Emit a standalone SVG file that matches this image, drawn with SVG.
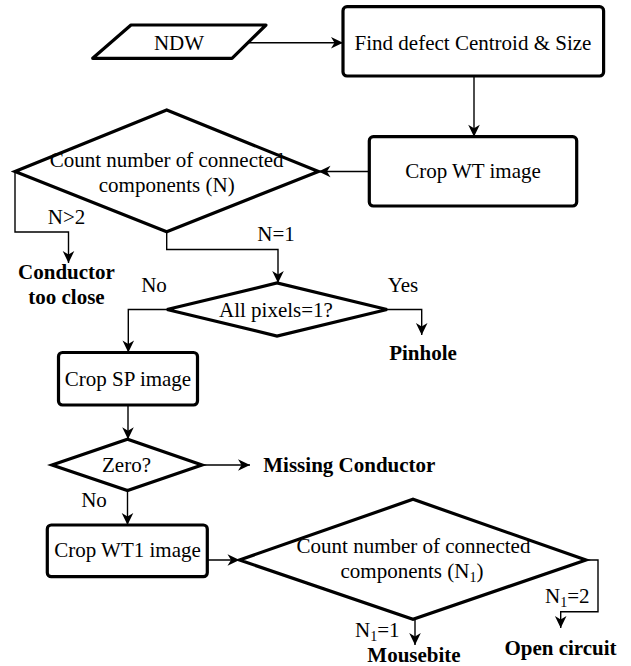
<svg xmlns="http://www.w3.org/2000/svg" width="631" height="666" viewBox="0 0 631 666">
<style>
.shape{fill:#fff;stroke:#000;stroke-width:3.2}
.conn{fill:none;stroke:#000;stroke-width:1.4}
.m{text-anchor:middle}
.b{font-weight:bold}
.sub{font-size:14px}
</style>
<defs>
<marker id="arr" viewBox="-13 -7 14 14" refX="0" refY="0" markerWidth="14" markerHeight="14" orient="auto" markerUnits="userSpaceOnUse">
<path d="M0,0 L-12,-5.8 L-8.5,0 L-12,5.8 Z" fill="#000"/>
</marker>
</defs>
<rect width="631" height="666" fill="#fff"/>
<g id="connectors">
<path class="conn" d="M249,42.7 H343" marker-end="url(#arr)"/>
<path class="conn" d="M474,76 V136.7" marker-end="url(#arr)"/>
<path class="conn" d="M369.3,171.5 H318.5" marker-end="url(#arr)"/>
<path class="conn" d="M15,171.5 V232 H68.5 V263" marker-end="url(#arr)"/>
<path class="conn" d="M166.7,231.7 V249.5 H278 V283" marker-end="url(#arr)"/>
<path class="conn" d="M167,309.5 H128.3 V352.5" marker-end="url(#arr)"/>
<path class="conn" d="M387,309.5 H421.7 V335" marker-end="url(#arr)"/>
<path class="conn" d="M128,405 V439.3" marker-end="url(#arr)"/>
<path class="conn" d="M202,465 H250" marker-end="url(#arr)"/>
<path class="conn" d="M127.5,490.5 V525" marker-end="url(#arr)"/>
<path class="conn" d="M207.3,560 H239.5" marker-end="url(#arr)"/>
<path class="conn" d="M415,619.3 V645" marker-end="url(#arr)"/>
<path class="conn" d="M586,560 H598 V611.7 H560.7 V628" marker-end="url(#arr)"/>
</g>
<g font-family="Liberation Serif, Times New Roman, serif" font-size="21" fill="#000">
<g id="ndw">
<polygon class="shape" stroke-linejoin="round" points="131,25 266,25 232,58.3 92.7,58.3"/>
<text class="m" x="179" y="49.5">NDW</text>
</g>
<g id="find">
<rect class="shape" x="343" y="6.7" width="260.6" height="69.3" rx="4"/>
<text class="m" x="473" y="49.5">Find defect Centroid &amp; Size</text>
</g>
<g id="cropwt">
<rect class="shape" x="369.3" y="136.7" width="207.4" height="69.3" rx="4"/>
<text class="m" x="473" y="178.3">Crop WT image</text>
</g>
<g id="count1">
<polygon class="shape" points="15,171.5 166.7,110 318.5,171.5 166.7,231.7"/>
<text class="m" x="166.7" y="166.7">Count number of connected</text>
<text class="m" x="166.7" y="192.3">components (N)</text>
</g>
<g id="allpixels">
<polygon class="shape" points="167,309.5 277,283 387,309.5 277,336"/>
<text class="m" x="276" y="316.7">All pixels=1?</text>
</g>
<g id="cropsp">
<rect class="shape" x="58.5" y="352.5" width="139" height="52.5" rx="4"/>
<text class="m" x="128" y="386">Crop SP image</text>
</g>
<g id="zero">
<polygon class="shape" points="52,465 127.5,439.3 202,465 127.5,490.5"/>
<text class="m" x="126.5" y="471.7">Zero?</text>
</g>
<g id="cropwt1">
<rect class="shape" x="47.3" y="525" width="160" height="51.7" rx="4"/>
<text class="m" x="127.5" y="557.3">Crop WT1 image</text>
</g>
<g id="count2">
<polygon class="shape" points="239.5,560 413,499.3 586,560 413,619.3"/>
<text class="m" x="413.5" y="553.3">Count number of connected</text>
<text class="m" x="412" y="578.3">components (N<tspan class="sub" dy="4">1</tspan><tspan dy="-4">)</tspan></text>
</g>
<g id="labels">
<text class="m" x="66.5" y="224">N&gt;2</text>
<text class="m" x="276" y="240.7">N=1</text>
<text class="m" x="154" y="291.7">No</text>
<text class="m" x="403" y="291.7">Yes</text>
<text class="m" x="94" y="507.3">No</text>
<text x="355" y="636.7">N<tspan class="sub" dy="4">1</tspan><tspan dy="-4">=1</tspan></text>
<text x="545" y="603.3">N<tspan class="sub" dy="4">1</tspan><tspan dy="-4">=2</tspan></text>
</g>
<g id="results">
<text class="m b" x="66.5" y="279.3">Conductor</text>
<text class="m b" x="66.5" y="304.3">too close</text>
<text class="m b" x="423" y="360">Pinhole</text>
<text class="b" x="263.3" y="472">Missing Conductor</text>
<text class="m b" x="414" y="662">Mousebite</text>
<text class="m b" x="560.5" y="655">Open circuit</text>
</g>
</g>
</svg>
